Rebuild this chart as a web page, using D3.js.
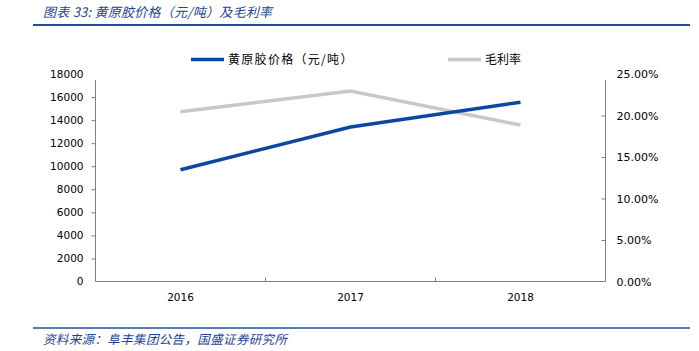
<!DOCTYPE html>
<html><head><meta charset="utf-8">
<script src="https://cdn.jsdelivr.net/npm/d3@7"></script>
<style>body{margin:0;background:#fff}svg{display:block}</style>
</head><body>
<script>
const categories = ["2016", "2017", "2018"];
const priceValues = [9700, 13400, 15550];
const marginValues = [0.2045, 0.2295, 0.1885];
const leftTicks = [0, 2000, 4000, 6000, 8000, 10000, 12000, 14000, 16000, 18000];
const rightTicks = [0, 0.05, 0.10, 0.15, 0.20, 0.25];
const seriesNames = ["黄原胶价格（元/吨）", "毛利率"];
const titleText = "图表 33:  黄原胶价格（元/吨）及毛利率";
const sourceText = "资料来源：阜丰集团公告，国盛证券研究所";

const W = 699, H = 351;
const L = 95.5, R = 605.5, T = 74, B = 281.5;
const svg = d3.select("body").append("svg").attr("width", W).attr("height", H);

const x = d3.scaleBand().domain(categories).range([L, R]);
const yL = d3.scaleLinear().domain([0, 18000]).range([B, T]);
const yR = d3.scaleLinear().domain([0, 0.25]).range([B, T]);

const tickFont = "DejaVu Sans, Verdana, sans-serif";
const blue = "#0b47a1", gray = "#c8c8c8", axisCol = "#7f7f7f";
const cjkBlue = "#1f4393";

// title
svg.append("text").attr("x", 43).attr("y", 17).text(titleText)
  .attr("font-family", "Noto Sans CJK SC").attr("font-style", "italic")
  .attr("font-size", 13).attr("textLength", 229).attr("lengthAdjust", "spacing").attr("fill", cjkBlue);
svg.append("line").attr("x1", 33).attr("x2", 690).attr("y1", 25).attr("y2", 25)
  .attr("stroke", "#1f4e9c").attr("stroke-width", 2);
// source
svg.append("line").attr("x1", 33).attr("x2", 690).attr("y1", 328).attr("y2", 328)
  .attr("stroke", "#1f4e9c").attr("stroke-width", 1.5);
svg.append("text").attr("x", 43).attr("y", 344).text(sourceText)
  .attr("font-family", "Noto Sans CJK SC").attr("font-style", "italic")
  .attr("font-size", 12.5).attr("textLength", 244).attr("lengthAdjust", "spacing").attr("fill", cjkBlue);

// axes
const axL = d3.axisLeft(yL).tickValues(leftTicks).tickSize(4).tickPadding(8).tickFormat(d3.format("d"));
const gL = svg.append("g").attr("transform", `translate(${L},0)`).call(axL);
const axR = d3.axisRight(yR).tickValues(rightTicks).tickSize(-4).tickPadding(11).tickFormat(d3.format(".2%"));
const gR = svg.append("g").attr("transform", `translate(${R},0)`).call(axR);
const axB = d3.axisBottom(x).tickSize(0).tickPadding(12);
const gB = svg.append("g").attr("transform", `translate(0,${B})`).call(axB);

[gL, gR, gB].forEach(g => {
  g.selectAll("text").attr("font-family", tickFont).attr("font-size", 10.5).attr("fill", "#000");
  g.selectAll("line").attr("stroke", axisCol);
  g.select(".domain").remove();
});
gR.selectAll("text").attr("font-size", 11);
gL.selectAll(".tick").filter(d => d === 18000 || d === 0).select("line").remove();
gR.selectAll(".tick").filter(d => d === 0.25 || d === 0).select("line").remove();
// vertical axis lines (start slightly below top)
svg.append("line").attr("x1", L).attr("x2", L).attr("y1", 80).attr("y2", B).attr("stroke", axisCol);
svg.append("line").attr("x1", R).attr("x2", R).attr("y1", 80).attr("y2", B).attr("stroke", axisCol);
svg.append("line").attr("x1", L).attr("x2", R).attr("y1", B).attr("y2", B).attr("stroke", axisCol);
// category separators
categories.slice(1).forEach(c => {
  svg.append("line").attr("x1", x(c)).attr("x2", x(c)).attr("y1", B - 4).attr("y2", B).attr("stroke", axisCol);
});

// lines
const cx = d => x(d) + x.bandwidth() / 2;
svg.append("path").datum(marginValues)
  .attr("d", d3.line().x((d, i) => cx(categories[i])).y(d => yR(d)))
  .attr("fill", "none").attr("stroke", gray).attr("stroke-width", 3.5);
svg.append("path").datum(priceValues)
  .attr("d", d3.line().x((d, i) => cx(categories[i])).y(d => yL(d)))
  .attr("fill", "none").attr("stroke", blue).attr("stroke-width", 3.5);

// legend
const leg = [{n: seriesNames[0], c: blue, x: 191, ls: 1.3}, {n: seriesNames[1], c: gray, x: 448, ls: 0}];
leg.forEach(l => {
  svg.append("line").attr("x1", l.x).attr("x2", l.x + 33).attr("y1", 59.5).attr("y2", 59.5)
    .attr("stroke", l.c).attr("stroke-width", 3.5);
  svg.append("text").attr("x", l.x + 37).attr("y", 64).text(l.n)
    .attr("font-family", "Noto Sans CJK SC").attr("font-size", 12)
    .style("letter-spacing", l.ls + "px").attr("fill", "#000");
});
</script>
</body></html>
